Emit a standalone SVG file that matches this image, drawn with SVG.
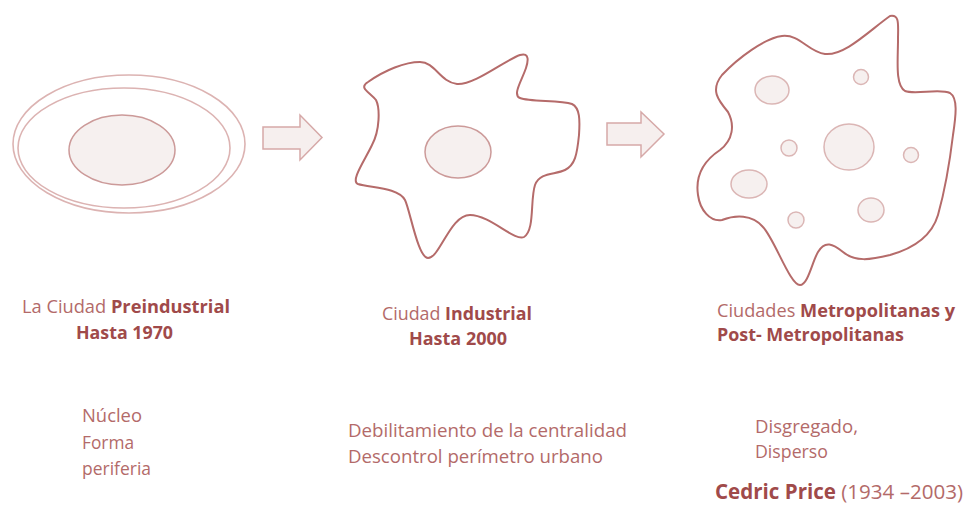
<svg xmlns="http://www.w3.org/2000/svg" width="965" height="511" viewBox="0 0 965 511">
<style>
.t{font-family:"Open Sans","Noto Sans",sans-serif;font-size:18.5px;fill:#b36a69}
.b{font-weight:bold;fill:#a04a4a}
.ring{fill:none;stroke:#dcb3b2;stroke-width:1.6}
.core{fill:#f6f0ef;stroke:#cc9a99;stroke-width:1.5}
.blob{fill:#f6f0ef;stroke:#dbb6b5;stroke-width:1.5}
.city{fill:#fff;stroke:#b56b6a;stroke-width:2;stroke-linejoin:round}
.arrow{fill:#f6efee;stroke:#d6a9a8;stroke-width:1.5}
</style>
<rect width="965" height="511" fill="#fff"/>
<g id="preindustrial">
<ellipse class="ring" cx="129" cy="144" rx="116" ry="69"/>
<ellipse class="ring" cx="124" cy="148" rx="106" ry="60"/>
<ellipse class="core" cx="122" cy="150" rx="53" ry="35"/>
</g>
<g id="industrial">
<path class="city" d="M368,82 C385,70 405,62 420,62 C435,62 440,82 457,84 C475,85 505,60 520,55 C530,52 528,62 526,68 C522,80 512,95 520,98 C530,102 560,100 572,104 C580,108 580,120 579,135 C577,155 575,165 565,170 C555,175 540,172 535,185 C530,200 535,230 524,237 C515,242 490,215 470,215 C450,215 440,258 428,258 C418,258 410,210 405,200 C398,187 370,188 358,184 C350,181 365,160 372,145 C380,130 380,108 376,100 C370,92 358,88 368,82 Z"/>
<ellipse class="core" cx="458" cy="152" rx="33" ry="26"/>
</g>
<g id="metropolitana">
<path class="city" d="M890,16 C900,14 898,25 898,40 C898,60 895,85 905,91 C915,95 940,88 950,93 C958,98 956,115 953,135 C950,160 945,190 938,215 C932,235 915,248 890,255 C870,260 855,262 843,252 C833,244 825,240 818,252 C812,262 808,285 800,285 C790,285 775,240 763,227 C752,214 735,215 722,220 C710,222 700,210 698,195 C695,175 705,160 720,150 C733,140 735,125 728,112 C718,100 710,90 722,75 C738,58 765,38 782,36 C800,34 808,52 825,54 C845,56 870,30 890,16 Z"/>
<ellipse class="blob" cx="772" cy="90" rx="17" ry="14"/>
<ellipse class="blob" cx="861" cy="77" rx="7.5" ry="7.5"/>
<ellipse class="blob" cx="849" cy="147" rx="25" ry="23"/>
<ellipse class="blob" cx="789" cy="148" rx="8" ry="8"/>
<ellipse class="blob" cx="911" cy="155" rx="7.5" ry="7.5"/>
<ellipse class="blob" cx="749" cy="184" rx="18" ry="14"/>
<ellipse class="blob" cx="871" cy="210" rx="13" ry="12"/>
<ellipse class="blob" cx="796" cy="220" rx="8" ry="8"/>
</g>
<g id="connectors">
<polygon class="arrow" points="263,127 300,127 300,115 322,137.5 300,160 300,149 263,149"/>
<polygon class="arrow" points="607,123 641,123 641,112 664,134 641,157 641,145 607,145"/>
</g>
<g id="labels">
<text class="t" x="22" y="313" textLength="208" lengthAdjust="spacingAndGlyphs">La Ciudad <tspan class="b">Preindustrial</tspan></text>
<text class="t b" x="76" y="339" textLength="97" lengthAdjust="spacingAndGlyphs">Hasta 1970</text>
<text class="t" x="382" y="320" textLength="150" lengthAdjust="spacingAndGlyphs">Ciudad <tspan class="b">Industrial</tspan></text>
<text class="t b" x="409" y="345" textLength="98" lengthAdjust="spacingAndGlyphs">Hasta 2000</text>
<text class="t" x="717" y="317" textLength="238" lengthAdjust="spacingAndGlyphs">Ciudades <tspan class="b">Metropolitanas y</tspan></text>
<text class="t b" x="717" y="341" textLength="187" lengthAdjust="spacingAndGlyphs">Post- Metropolitanas</text>
<text class="t" x="82" y="422" textLength="60" lengthAdjust="spacingAndGlyphs">Núcleo</text>
<text class="t" x="82" y="449" textLength="52" lengthAdjust="spacingAndGlyphs">Forma</text>
<text class="t" x="82" y="475" textLength="69" lengthAdjust="spacingAndGlyphs">periferia</text>
<text class="t" x="348" y="437" textLength="279" lengthAdjust="spacingAndGlyphs">Debilitamiento de la centralidad</text>
<text class="t" x="348" y="463" textLength="255" lengthAdjust="spacingAndGlyphs">Descontrol perímetro urbano</text>
<text class="t" x="755" y="433" textLength="103" lengthAdjust="spacingAndGlyphs">Disgregado,</text>
<text class="t" x="755" y="458" textLength="73" lengthAdjust="spacingAndGlyphs">Disperso</text>
<text class="t" x="715" y="499" style="font-size:20.5px" textLength="248" lengthAdjust="spacingAndGlyphs"><tspan class="b">Cedric Price</tspan> (1934 –2003)</text>
</g>
</svg>
